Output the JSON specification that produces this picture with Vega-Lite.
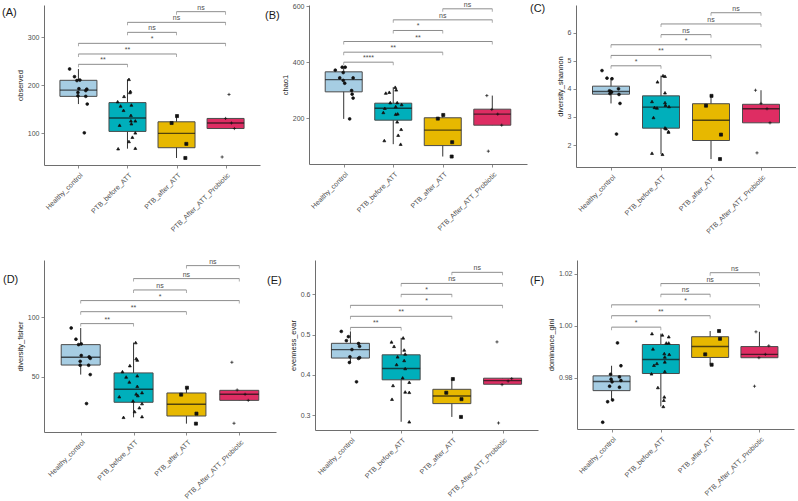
{
  "$schema": "https://vega.github.io/schema/vega-lite/v6.json",
  "background": "white",
  "padding": {"left": 2, "top": 0, "right": 0, "bottom": 0},
  "autosize": {"type": "pad"},
  "config": {
    "view": {"stroke": null},
    "font": "Liberation Sans",
    "axis": {"grid": false, "domainColor": "#6e6e6e", "domainWidth": 1, "tickColor": "#6e6e6e", "tickSize": 3, "tickWidth": 0.8, "labelColor": "#4d4d4d", "labelFontSize": 7, "titleFontSize": 7.5, "titleFontWeight": "normal", "titleColor": "#1a1a1a", "labelPadding": 2, "titlePadding": 3, "labelOverlap": false},
    "axisX": {"labelAngle": -45, "labelAlign": "right", "labelBaseline": "top", "labelPadding": 3},
    "title": {"fontSize": 11, "fontWeight": "normal", "anchor": "start", "frame": "group", "offset": 0, "color": "#1a1a1a", "align": "left", "baseline": "alphabetic"}
  },
  "datasets": {
    "box": [
      {"m": "A", "g": 1, "lo": 161, "q1": 177, "med": 190, "q3": 210.5, "hi": 234},
      {"m": "A", "g": 2, "lo": 68, "q1": 104, "med": 132, "q3": 164, "hi": 212.5},
      {"m": "A", "g": 3, "lo": 48.6, "q1": 70, "med": 100, "q3": 124, "hi": 136},
      {"m": "A", "g": 4, "lo": 110, "q1": 110, "med": 121.5, "q3": 131, "hi": 131},
      {"m": "B", "g": 1, "lo": 198, "q1": 294.4, "med": 338, "q3": 365.6, "hi": 382},
      {"m": "B", "g": 2, "lo": 108, "q1": 193.5, "med": 236, "q3": 254, "hi": 311},
      {"m": "B", "g": 3, "lo": 64, "q1": 103, "med": 158, "q3": 202, "hi": 212},
      {"m": "B", "g": 4, "lo": 175.6, "q1": 175.6, "med": 215, "q3": 232.6, "hi": 281},
      {"m": "C", "g": 1, "lo": 3.48, "q1": 3.81, "med": 3.905, "q3": 4.095, "hi": 4.38},
      {"m": "C", "g": 2, "lo": 1.67, "q1": 2.6, "med": 3.35, "q3": 3.75, "hi": 4.47},
      {"m": "C", "g": 3, "lo": 1.5, "q1": 2.16, "med": 2.88, "q3": 3.47, "hi": 3.75},
      {"m": "C", "g": 4, "lo": 2.79, "q1": 2.79, "med": 3.29, "q3": 3.45, "hi": 3.95},
      {"m": "D", "g": 1, "lo": 52, "q1": 60, "med": 66.5, "q3": 77.1, "hi": 91},
      {"m": "D", "g": 2, "lo": 16.2, "q1": 28.8, "med": 39.7, "q3": 53.4, "hi": 78.8},
      {"m": "D", "g": 3, "lo": 10.9, "q1": 17.3, "med": 27.1, "q3": 36.6, "hi": 41},
      {"m": "D", "g": 4, "lo": 30.4, "q1": 30.4, "med": 35.5, "q3": 38.8, "hi": 39.1},
      {"m": "E", "g": 1, "lo": 0.431, "q1": 0.442, "med": 0.463, "q3": 0.4785, "hi": 0.508},
      {"m": "E", "g": 2, "lo": 0.284, "q1": 0.388, "med": 0.416, "q3": 0.45, "hi": 0.492},
      {"m": "E", "g": 3, "lo": 0.296, "q1": 0.329, "med": 0.348, "q3": 0.3645, "hi": 0.39},
      {"m": "E", "g": 4, "lo": 0.376, "q1": 0.377, "med": 0.386, "q3": 0.392, "hi": 0.392},
      {"m": "F", "g": 1, "lo": 0.9714, "q1": 0.975, "med": 0.9785, "q3": 0.9807, "hi": 0.9846},
      {"m": "F", "g": 2, "lo": 0.9689, "q1": 0.9816, "med": 0.987, "q3": 0.9928, "hi": 0.997},
      {"m": "F", "g": 3, "lo": 0.985, "q1": 0.9878, "med": 0.992, "q3": 0.9958, "hi": 0.998},
      {"m": "F", "g": 4, "lo": 0.9877, "q1": 0.9877, "med": 0.989, "q3": 0.992, "hi": 0.9977}
    ],
    "sig": [
      {"m": "A", "x1": 1, "x2": 2, "xm": 1.5, "y": 243.75, "lab": "**"},
      {"m": "A", "x1": 1, "x2": 3, "xm": 2, "y": 265.3, "lab": "**"},
      {"m": "A", "x1": 1, "x2": 4, "xm": 2.5, "y": 287.5, "lab": "*"},
      {"m": "A", "x1": 2, "x2": 3, "xm": 2.5, "y": 310.4, "lab": "ns"},
      {"m": "A", "x1": 2, "x2": 4, "xm": 3, "y": 331.25, "lab": "ns"},
      {"m": "A", "x1": 3, "x2": 4, "xm": 3.5, "y": 353.5, "lab": "ns"},
      {"m": "B", "x1": 1, "x2": 2, "xm": 1.5, "y": 400, "lab": "****"},
      {"m": "B", "x1": 1, "x2": 3, "xm": 2, "y": 435.6, "lab": "**"},
      {"m": "B", "x1": 1, "x2": 4, "xm": 2.5, "y": 473.6, "lab": "**"},
      {"m": "B", "x1": 2, "x2": 3, "xm": 2.5, "y": 512.8, "lab": "*"},
      {"m": "B", "x1": 2, "x2": 4, "xm": 3, "y": 550.7, "lab": "ns"},
      {"m": "B", "x1": 3, "x2": 4, "xm": 3.5, "y": 590, "lab": "ns"},
      {"m": "C", "x1": 1, "x2": 2, "xm": 1.5, "y": 4.82, "lab": "*"},
      {"m": "C", "x1": 1, "x2": 3, "xm": 2, "y": 5.19, "lab": "**"},
      {"m": "C", "x1": 1, "x2": 4, "xm": 2.5, "y": 5.57, "lab": "*"},
      {"m": "C", "x1": 2, "x2": 3, "xm": 2.5, "y": 5.93, "lab": "ns"},
      {"m": "C", "x1": 2, "x2": 4, "xm": 3, "y": 6.31, "lab": "ns"},
      {"m": "C", "x1": 3, "x2": 4, "xm": 3.5, "y": 6.71, "lab": "ns"},
      {"m": "D", "x1": 1, "x2": 2, "xm": 1.5, "y": 94.7, "lab": "**"},
      {"m": "D", "x1": 1, "x2": 3, "xm": 2, "y": 104.7, "lab": "**"},
      {"m": "D", "x1": 1, "x2": 4, "xm": 2.5, "y": 114, "lab": "*"},
      {"m": "D", "x1": 2, "x2": 3, "xm": 2.5, "y": 122.9, "lab": "ns"},
      {"m": "D", "x1": 2, "x2": 4, "xm": 3, "y": 132.4, "lab": "ns"},
      {"m": "D", "x1": 3, "x2": 4, "xm": 3.5, "y": 143.3, "lab": "ns"},
      {"m": "E", "x1": 1, "x2": 2, "xm": 1.5, "y": 0.518, "lab": "**"},
      {"m": "E", "x1": 1, "x2": 3, "xm": 2, "y": 0.5455, "lab": "**"},
      {"m": "E", "x1": 1, "x2": 4, "xm": 2.5, "y": 0.5727, "lab": "*"},
      {"m": "E", "x1": 2, "x2": 3, "xm": 2.5, "y": 0.6, "lab": "*"},
      {"m": "E", "x1": 2, "x2": 4, "xm": 3, "y": 0.627, "lab": "ns"},
      {"m": "E", "x1": 3, "x2": 4, "xm": 3.5, "y": 0.6545, "lab": "ns"},
      {"m": "F", "x1": 1, "x2": 2, "xm": 1.5, "y": 0.9995, "lab": "*"},
      {"m": "F", "x1": 1, "x2": 3, "xm": 2, "y": 1.0039, "lab": "**"},
      {"m": "F", "x1": 1, "x2": 4, "xm": 2.5, "y": 1.0081, "lab": "*"},
      {"m": "F", "x1": 2, "x2": 3, "xm": 2.5, "y": 1.0122, "lab": "ns"},
      {"m": "F", "x1": 2, "x2": 4, "xm": 3, "y": 1.0163, "lab": "ns"},
      {"m": "F", "x1": 3, "x2": 4, "xm": 3.5, "y": 1.0205, "lab": "ns"}
    ],
    "pts": [
      {"m": "A", "g": 1, "gx": 0.82, "v": 234}, {"m": "A", "g": 1, "gx": 0.92, "v": 218}, {"m": "A", "g": 1, "gx": 0.97, "v": 210}, {"m": "A", "g": 1, "gx": 1.03, "v": 211},
      {"m": "A", "g": 1, "gx": 1.01, "v": 193}, {"m": "A", "g": 1, "gx": 1.17, "v": 192}, {"m": "A", "g": 1, "gx": 1.15, "v": 189}, {"m": "A", "g": 1, "gx": 0.99, "v": 185},
      {"m": "A", "g": 1, "gx": 0.99, "v": 178}, {"m": "A", "g": 1, "gx": 1.15, "v": 177}, {"m": "A", "g": 1, "gx": 1.18, "v": 161}, {"m": "A", "g": 1, "gx": 1.12, "v": 101},
      {"m": "A", "g": 2, "gx": 2.03, "v": 212.5}, {"m": "A", "g": 2, "gx": 2.06, "v": 187.5}, {"m": "A", "g": 2, "gx": 2.05, "v": 185}, {"m": "A", "g": 2, "gx": 1.93, "v": 177},
      {"m": "A", "g": 2, "gx": 1.8, "v": 166}, {"m": "A", "g": 2, "gx": 1.86, "v": 157}, {"m": "A", "g": 2, "gx": 2.08, "v": 159}, {"m": "A", "g": 2, "gx": 1.92, "v": 148},
      {"m": "A", "g": 2, "gx": 2.07, "v": 137.5}, {"m": "A", "g": 2, "gx": 2.07, "v": 126}, {"m": "A", "g": 2, "gx": 2.16, "v": 126}, {"m": "A", "g": 2, "gx": 2.08, "v": 120},
      {"m": "A", "g": 2, "gx": 1.84, "v": 117}, {"m": "A", "g": 2, "gx": 2.16, "v": 101}, {"m": "A", "g": 2, "gx": 2.1, "v": 92}, {"m": "A", "g": 2, "gx": 2.03, "v": 83},
      {"m": "A", "g": 2, "gx": 1.81, "v": 68}, {"m": "A", "g": 2, "gx": 2.16, "v": 69},
      {"m": "A", "g": 3, "gx": 3.01, "v": 136}, {"m": "A", "g": 3, "gx": 2.9, "v": 121.5}, {"m": "A", "g": 3, "gx": 3.2, "v": 78}, {"m": "A", "g": 3, "gx": 3.18, "v": 48.6},
      {"m": "A", "g": 4, "gx": 4.07, "v": 181}, {"m": "A", "g": 4, "gx": 4.0, "v": 131}, {"m": "A", "g": 4, "gx": 4.12, "v": 121.5}, {"m": "A", "g": 4, "gx": 4.18, "v": 110}, {"m": "A", "g": 4, "gx": 3.93, "v": 50.7},

      {"m": "B", "g": 1, "gx": 0.83, "v": 371.5}, {"m": "B", "g": 1, "gx": 0.97, "v": 382}, {"m": "B", "g": 1, "gx": 1.03, "v": 382}, {"m": "B", "g": 1, "gx": 0.99, "v": 363},
      {"m": "B", "g": 1, "gx": 0.92, "v": 344}, {"m": "B", "g": 1, "gx": 1.19, "v": 344}, {"m": "B", "g": 1, "gx": 0.99, "v": 335}, {"m": "B", "g": 1, "gx": 1.02, "v": 325},
      {"m": "B", "g": 1, "gx": 1.16, "v": 299}, {"m": "B", "g": 1, "gx": 1.17, "v": 286}, {"m": "B", "g": 1, "gx": 1.19, "v": 272}, {"m": "B", "g": 1, "gx": 1.12, "v": 198},
      {"m": "B", "g": 2, "gx": 1.85, "v": 290}, {"m": "B", "g": 2, "gx": 1.92, "v": 293}, {"m": "B", "g": 2, "gx": 2.04, "v": 311}, {"m": "B", "g": 2, "gx": 2.06, "v": 301.5},
      {"m": "B", "g": 2, "gx": 1.94, "v": 256}, {"m": "B", "g": 2, "gx": 2.08, "v": 256}, {"m": "B", "g": 2, "gx": 1.83, "v": 236}, {"m": "B", "g": 2, "gx": 2.05, "v": 242},
      {"m": "B", "g": 2, "gx": 2.17, "v": 249}, {"m": "B", "g": 2, "gx": 1.8, "v": 221}, {"m": "B", "g": 2, "gx": 2.05, "v": 215}, {"m": "B", "g": 2, "gx": 2.09, "v": 216},
      {"m": "B", "g": 2, "gx": 2.08, "v": 187.5}, {"m": "B", "g": 2, "gx": 2.16, "v": 161}, {"m": "B", "g": 2, "gx": 2.1, "v": 140}, {"m": "B", "g": 2, "gx": 1.82, "v": 121},
      {"m": "B", "g": 2, "gx": 2.15, "v": 108},
      {"m": "B", "g": 3, "gx": 2.9, "v": 199}, {"m": "B", "g": 3, "gx": 3.01, "v": 212}, {"m": "B", "g": 3, "gx": 3.19, "v": 115}, {"m": "B", "g": 3, "gx": 3.18, "v": 64},
      {"m": "B", "g": 4, "gx": 3.89, "v": 281}, {"m": "B", "g": 4, "gx": 3.99, "v": 231.5}, {"m": "B", "g": 4, "gx": 4.11, "v": 215}, {"m": "B", "g": 4, "gx": 4.19, "v": 175.6}, {"m": "B", "g": 4, "gx": 3.92, "v": 83},

      {"m": "C", "g": 1, "gx": 0.82, "v": 4.65}, {"m": "C", "g": 1, "gx": 0.92, "v": 4.38}, {"m": "C", "g": 1, "gx": 1.02, "v": 4.36}, {"m": "C", "g": 1, "gx": 0.97, "v": 3.93},
      {"m": "C", "g": 1, "gx": 1.01, "v": 3.88}, {"m": "C", "g": 1, "gx": 0.98, "v": 3.83}, {"m": "C", "g": 1, "gx": 1.15, "v": 4.0}, {"m": "C", "g": 1, "gx": 1.16, "v": 3.8},
      {"m": "C", "g": 1, "gx": 1.18, "v": 3.48}, {"m": "C", "g": 1, "gx": 1.11, "v": 2.39}, {"m": "C", "g": 1, "gx": 1.0, "v": 3.9},
      {"m": "C", "g": 2, "gx": 2.04, "v": 4.47}, {"m": "C", "g": 2, "gx": 2.08, "v": 4.45}, {"m": "C", "g": 2, "gx": 1.93, "v": 4.25}, {"m": "C", "g": 2, "gx": 2.08, "v": 3.86},
      {"m": "C", "g": 2, "gx": 1.82, "v": 3.55}, {"m": "C", "g": 2, "gx": 2.08, "v": 3.51}, {"m": "C", "g": 2, "gx": 2.09, "v": 3.42}, {"m": "C", "g": 2, "gx": 2.16, "v": 3.37},
      {"m": "C", "g": 2, "gx": 1.87, "v": 3.34}, {"m": "C", "g": 2, "gx": 1.92, "v": 3.32}, {"m": "C", "g": 2, "gx": 1.85, "v": 2.98}, {"m": "C", "g": 2, "gx": 2.08, "v": 2.61},
      {"m": "C", "g": 2, "gx": 2.1, "v": 2.58}, {"m": "C", "g": 2, "gx": 2.15, "v": 2.48}, {"m": "C", "g": 2, "gx": 2.15, "v": 2.46}, {"m": "C", "g": 2, "gx": 1.82, "v": 1.71},
      {"m": "C", "g": 2, "gx": 2.03, "v": 1.67},
      {"m": "C", "g": 3, "gx": 2.9, "v": 3.4}, {"m": "C", "g": 3, "gx": 3.01, "v": 3.75}, {"m": "C", "g": 3, "gx": 3.2, "v": 2.37}, {"m": "C", "g": 3, "gx": 3.18, "v": 1.5},
      {"m": "C", "g": 4, "gx": 3.89, "v": 3.95}, {"m": "C", "g": 4, "gx": 4.0, "v": 3.48}, {"m": "C", "g": 4, "gx": 4.12, "v": 3.29}, {"m": "C", "g": 4, "gx": 4.18, "v": 2.79}, {"m": "C", "g": 4, "gx": 3.92, "v": 1.72},

      {"m": "D", "g": 1, "gx": 0.82, "v": 91}, {"m": "D", "g": 1, "gx": 0.91, "v": 81.6}, {"m": "D", "g": 1, "gx": 0.96, "v": 77.1}, {"m": "D", "g": 1, "gx": 1.01, "v": 77.7},
      {"m": "D", "g": 1, "gx": 1.01, "v": 68}, {"m": "D", "g": 1, "gx": 0.99, "v": 63.1}, {"m": "D", "g": 1, "gx": 1.16, "v": 66.8}, {"m": "D", "g": 1, "gx": 1.18, "v": 65.6},
      {"m": "D", "g": 1, "gx": 0.99, "v": 59.8}, {"m": "D", "g": 1, "gx": 1.15, "v": 59.8}, {"m": "D", "g": 1, "gx": 1.18, "v": 52}, {"m": "D", "g": 1, "gx": 1.11, "v": 27.7},
      {"m": "D", "g": 2, "gx": 2.04, "v": 78.8}, {"m": "D", "g": 2, "gx": 2.05, "v": 65.4}, {"m": "D", "g": 2, "gx": 2.07, "v": 64.2}, {"m": "D", "g": 2, "gx": 1.93, "v": 59.5},
      {"m": "D", "g": 2, "gx": 1.79, "v": 54.5}, {"m": "D", "g": 2, "gx": 1.86, "v": 50}, {"m": "D", "g": 2, "gx": 2.07, "v": 51}, {"m": "D", "g": 2, "gx": 1.92, "v": 45.8},
      {"m": "D", "g": 2, "gx": 2.07, "v": 42.2}, {"m": "D", "g": 2, "gx": 1.73, "v": 33.5}, {"m": "D", "g": 2, "gx": 2.05, "v": 35.8}, {"m": "D", "g": 2, "gx": 2.08, "v": 34.4},
      {"m": "D", "g": 2, "gx": 2.16, "v": 36.9}, {"m": "D", "g": 2, "gx": 1.99, "v": 29.9}, {"m": "D", "g": 2, "gx": 2.16, "v": 27.7}, {"m": "D", "g": 2, "gx": 2.11, "v": 24.3},
      {"m": "D", "g": 2, "gx": 2.02, "v": 21}, {"m": "D", "g": 2, "gx": 1.81, "v": 16.2}, {"m": "D", "g": 2, "gx": 2.16, "v": 16.8},
      {"m": "D", "g": 3, "gx": 3.01, "v": 41}, {"m": "D", "g": 3, "gx": 2.9, "v": 35.2}, {"m": "D", "g": 3, "gx": 3.19, "v": 19.3}, {"m": "D", "g": 3, "gx": 3.18, "v": 10.9},
      {"m": "D", "g": 4, "gx": 3.86, "v": 62.3}, {"m": "D", "g": 4, "gx": 3.96, "v": 39.1}, {"m": "D", "g": 4, "gx": 4.11, "v": 35.5}, {"m": "D", "g": 4, "gx": 4.17, "v": 30.4}, {"m": "D", "g": 4, "gx": 3.9, "v": 11.2},

      {"m": "E", "g": 1, "gx": 0.82, "v": 0.508}, {"m": "E", "g": 1, "gx": 0.96, "v": 0.495}, {"m": "E", "g": 1, "gx": 0.92, "v": 0.485}, {"m": "E", "g": 1, "gx": 1.16, "v": 0.478},
      {"m": "E", "g": 1, "gx": 1.18, "v": 0.471}, {"m": "E", "g": 1, "gx": 1.03, "v": 0.463}, {"m": "E", "g": 1, "gx": 0.99, "v": 0.445}, {"m": "E", "g": 1, "gx": 1.16, "v": 0.441},
      {"m": "E", "g": 1, "gx": 1.18, "v": 0.443}, {"m": "E", "g": 1, "gx": 0.98, "v": 0.431}, {"m": "E", "g": 1, "gx": 1.12, "v": 0.383},
      {"m": "E", "g": 2, "gx": 1.81, "v": 0.482}, {"m": "E", "g": 2, "gx": 1.86, "v": 0.471}, {"m": "E", "g": 2, "gx": 2.04, "v": 0.492}, {"m": "E", "g": 2, "gx": 2.06, "v": 0.462},
      {"m": "E", "g": 2, "gx": 1.93, "v": 0.445}, {"m": "E", "g": 2, "gx": 2.08, "v": 0.452}, {"m": "E", "g": 2, "gx": 2.06, "v": 0.436}, {"m": "E", "g": 2, "gx": 1.91, "v": 0.426},
      {"m": "E", "g": 2, "gx": 2.08, "v": 0.416}, {"m": "E", "g": 2, "gx": 2.03, "v": 0.393}, {"m": "E", "g": 2, "gx": 1.84, "v": 0.374}, {"m": "E", "g": 2, "gx": 2.16, "v": 0.382},
      {"m": "E", "g": 2, "gx": 2.08, "v": 0.358}, {"m": "E", "g": 2, "gx": 2.16, "v": 0.357}, {"m": "E", "g": 2, "gx": 1.82, "v": 0.34}, {"m": "E", "g": 2, "gx": 2.16, "v": 0.284},
      {"m": "E", "g": 3, "gx": 3.02, "v": 0.39}, {"m": "E", "g": 3, "gx": 2.89, "v": 0.356}, {"m": "E", "g": 3, "gx": 3.19, "v": 0.34}, {"m": "E", "g": 3, "gx": 3.18, "v": 0.296},
      {"m": "E", "g": 4, "gx": 3.89, "v": 0.482}, {"m": "E", "g": 4, "gx": 4.18, "v": 0.391}, {"m": "E", "g": 4, "gx": 4.11, "v": 0.385}, {"m": "E", "g": 4, "gx": 3.99, "v": 0.376}, {"m": "E", "g": 4, "gx": 3.92, "v": 0.281},

      {"m": "F", "g": 1, "gx": 1.12, "v": 0.9934}, {"m": "F", "g": 1, "gx": 1.19, "v": 0.9846}, {"m": "F", "g": 1, "gx": 0.98, "v": 0.9813}, {"m": "F", "g": 1, "gx": 1.16, "v": 0.9803},
      {"m": "F", "g": 1, "gx": 0.99, "v": 0.9794}, {"m": "F", "g": 1, "gx": 1.19, "v": 0.9789}, {"m": "F", "g": 1, "gx": 1.01, "v": 0.9784}, {"m": "F", "g": 1, "gx": 0.96, "v": 0.9767},
      {"m": "F", "g": 1, "gx": 1.16, "v": 0.9763}, {"m": "F", "g": 1, "gx": 1.02, "v": 0.9714}, {"m": "F", "g": 1, "gx": 0.92, "v": 0.9707}, {"m": "F", "g": 1, "gx": 0.82, "v": 0.9628},
      {"m": "F", "g": 2, "gx": 1.82, "v": 0.997}, {"m": "F", "g": 2, "gx": 2.03, "v": 0.9965}, {"m": "F", "g": 2, "gx": 2.16, "v": 0.9958}, {"m": "F", "g": 2, "gx": 1.84, "v": 0.9911},
      {"m": "F", "g": 2, "gx": 2.11, "v": 0.9934}, {"m": "F", "g": 2, "gx": 2.16, "v": 0.9934}, {"m": "F", "g": 2, "gx": 2.07, "v": 0.9893}, {"m": "F", "g": 2, "gx": 2.17, "v": 0.989},
      {"m": "F", "g": 2, "gx": 2.08, "v": 0.988}, {"m": "F", "g": 2, "gx": 1.92, "v": 0.9855}, {"m": "F", "g": 2, "gx": 1.86, "v": 0.9848}, {"m": "F", "g": 2, "gx": 2.08, "v": 0.9861},
      {"m": "F", "g": 2, "gx": 1.81, "v": 0.9815}, {"m": "F", "g": 2, "gx": 2.08, "v": 0.9824}, {"m": "F", "g": 2, "gx": 1.94, "v": 0.9762}, {"m": "F", "g": 2, "gx": 2.07, "v": 0.9726},
      {"m": "F", "g": 2, "gx": 2.06, "v": 0.9713}, {"m": "F", "g": 2, "gx": 2.05, "v": 0.9689},
      {"m": "F", "g": 3, "gx": 3.18, "v": 0.998}, {"m": "F", "g": 3, "gx": 3.2, "v": 0.995}, {"m": "F", "g": 3, "gx": 2.9, "v": 0.989}, {"m": "F", "g": 3, "gx": 3.03, "v": 0.985},
      {"m": "F", "g": 4, "gx": 3.93, "v": 0.9977}, {"m": "F", "g": 4, "gx": 4.19, "v": 0.9923}, {"m": "F", "g": 4, "gx": 4.12, "v": 0.989}, {"m": "F", "g": 4, "gx": 3.99, "v": 0.9877}, {"m": "F", "g": 4, "gx": 3.9, "v": 0.9767}
    ]
  },
  "spacing": 22,
  "vconcat": [
    {
      "bounds": "flush",
      "spacing": 49,
      "hconcat": [
        {
          "width": 216, "height": 160,
          "title": {"text": "(A)", "dx": -42, "dy": 18},
          "layer": [
            {"data": {"name": "box"}, "transform": [{"filter": "datum.m == 'A'"}], "mark": {"type": "rule", "color": "#333333", "strokeWidth": 1},
             "encoding": {"x": {"field": "g", "type": "quantitative", "title": null, "scale": {"domain": [0.4, 4.6], "nice": false, "zero": false}, "axis": {"values": [1, 2, 3, 4], "labelExpr": "['', 'Healthy_control', 'PTB_before_ATT', 'PTB_after_ATT', 'PTB_After_ATT_Probiotic'][datum.value]"}},
                          "y": {"field": "lo", "type": "quantitative", "title": "observed", "scale": {"domain": [34, 367.4], "nice": false, "zero": false}, "axis": {"values": [100, 200, 300]}}, "y2": {"field": "hi"}}},
            {"data": {"name": "box"}, "transform": [{"filter": "datum.m == 'A'"}], "mark": {"type": "bar", "width": 37, "stroke": "#4a4a4a", "strokeWidth": 1},
             "encoding": {"x": {"field": "g", "type": "quantitative", "title": null}, "y": {"field": "q1", "type": "quantitative", "title": "observed"}, "y2": {"field": "q3"},
                          "fill": {"field": "g", "type": "nominal", "scale": {"domain": [1, 2, 3, 4], "range": ["#a6cde3", "#00afbb", "#e7b800", "#de2d63"]}, "legend": null}}},
            {"data": {"name": "box"}, "transform": [{"filter": "datum.m == 'A'"}], "mark": {"type": "tick", "orient": "horizontal", "size": 37, "thickness": 1.4, "color": "#111111"},
             "encoding": {"x": {"field": "g", "type": "quantitative", "title": null}, "y": {"field": "med", "type": "quantitative", "title": "observed"}}},
            {"data": {"name": "pts"}, "transform": [{"filter": "datum.m == 'A'"}], "mark": {"type": "point", "filled": true, "color": "#111111", "stroke": "#111111", "strokeWidth": 0.7, "opacity": 1},
             "encoding": {"x": {"field": "gx", "type": "quantitative", "title": null}, "y": {"field": "v", "type": "quantitative", "title": "observed"},
                          "shape": {"field": "g", "type": "nominal", "scale": {"domain": [1, 2, 3, 4], "range": ["circle", "triangle-up", "square", "M-1,0L1,0M0,-1L0,1"]}, "legend": null},
                          "size": {"field": "g", "type": "nominal", "scale": {"domain": [1, 2, 3, 4], "range": [8, 10, 8, 22]}, "legend": null}}},
            {"data": {"name": "sig"}, "transform": [{"filter": "datum.m == 'A'"}], "mark": {"type": "rule", "color": "#808080", "strokeWidth": 0.9},
             "encoding": {"x": {"field": "x1", "type": "quantitative", "title": null}, "x2": {"field": "x2"}, "y": {"field": "y", "type": "quantitative", "title": "observed"}}},
            {"data": {"name": "sig"}, "transform": [{"filter": "datum.m == 'A'"}], "mark": {"type": "tick", "orient": "vertical", "size": 3, "thickness": 0.9, "color": "#808080", "yOffset": 1.5},
             "encoding": {"x": {"field": "x1", "type": "quantitative", "title": null}, "y": {"field": "y", "type": "quantitative", "title": "observed"}}},
            {"data": {"name": "sig"}, "transform": [{"filter": "datum.m == 'A'"}], "mark": {"type": "tick", "orient": "vertical", "size": 3, "thickness": 0.9, "color": "#808080", "yOffset": 1.5},
             "encoding": {"x": {"field": "x2", "type": "quantitative", "title": null}, "y": {"field": "y", "type": "quantitative", "title": "observed"}}},
            {"data": {"name": "sig"}, "transform": [{"filter": "datum.m == 'A'"}], "mark": {"type": "text", "fontSize": 7, "color": "#4d4d4d", "baseline": "bottom", "dy": -1},
             "encoding": {"x": {"field": "xm", "type": "quantitative", "title": null}, "y": {"field": "y", "type": "quantitative", "title": "observed"}, "text": {"field": "lab"}}}
          ]
        },
        {
          "width": 218, "height": 159,
          "title": {"text": "(B)", "dx": -44, "dy": 24},
          "layer": [
            {"data": {"name": "box"}, "transform": [{"filter": "datum.m == 'B'"}], "mark": {"type": "rule", "color": "#333333", "strokeWidth": 1},
             "encoding": {"x": {"field": "g", "type": "quantitative", "title": null, "scale": {"domain": [0.4, 4.6], "nice": false, "zero": false}, "axis": {"values": [1, 2, 3, 4], "labelExpr": "['', 'Healthy_control', 'PTB_before_ATT', 'PTB_after_ATT', 'PTB_After_ATT_Probiotic'][datum.value]"}},
                          "y": {"field": "lo", "type": "quantitative", "title": "chao1", "scale": {"domain": [37.4, 603.6], "nice": false, "zero": false}, "axis": {"values": [200, 400, 600]}}, "y2": {"field": "hi"}}},
            {"data": {"name": "box"}, "transform": [{"filter": "datum.m == 'B'"}], "mark": {"type": "bar", "width": 37, "stroke": "#4a4a4a", "strokeWidth": 1},
             "encoding": {"x": {"field": "g", "type": "quantitative", "title": null}, "y": {"field": "q1", "type": "quantitative", "title": "chao1"}, "y2": {"field": "q3"},
                          "fill": {"field": "g", "type": "nominal", "scale": {"domain": [1, 2, 3, 4], "range": ["#a6cde3", "#00afbb", "#e7b800", "#de2d63"]}, "legend": null}}},
            {"data": {"name": "box"}, "transform": [{"filter": "datum.m == 'B'"}], "mark": {"type": "tick", "orient": "horizontal", "size": 37, "thickness": 1.4, "color": "#111111"},
             "encoding": {"x": {"field": "g", "type": "quantitative", "title": null}, "y": {"field": "med", "type": "quantitative", "title": "chao1"}}},
            {"data": {"name": "pts"}, "transform": [{"filter": "datum.m == 'B'"}], "mark": {"type": "point", "filled": true, "color": "#111111", "stroke": "#111111", "strokeWidth": 0.7, "opacity": 1},
             "encoding": {"x": {"field": "gx", "type": "quantitative", "title": null}, "y": {"field": "v", "type": "quantitative", "title": "chao1"},
                          "shape": {"field": "g", "type": "nominal", "scale": {"domain": [1, 2, 3, 4], "range": ["circle", "triangle-up", "square", "M-1,0L1,0M0,-1L0,1"]}, "legend": null},
                          "size": {"field": "g", "type": "nominal", "scale": {"domain": [1, 2, 3, 4], "range": [8, 10, 8, 22]}, "legend": null}}},
            {"data": {"name": "sig"}, "transform": [{"filter": "datum.m == 'B'"}], "mark": {"type": "rule", "color": "#808080", "strokeWidth": 0.9},
             "encoding": {"x": {"field": "x1", "type": "quantitative", "title": null}, "x2": {"field": "x2"}, "y": {"field": "y", "type": "quantitative", "title": "chao1"}}},
            {"data": {"name": "sig"}, "transform": [{"filter": "datum.m == 'B'"}], "mark": {"type": "tick", "orient": "vertical", "size": 3, "thickness": 0.9, "color": "#808080", "yOffset": 1.5},
             "encoding": {"x": {"field": "x1", "type": "quantitative", "title": null}, "y": {"field": "y", "type": "quantitative", "title": "chao1"}}},
            {"data": {"name": "sig"}, "transform": [{"filter": "datum.m == 'B'"}], "mark": {"type": "tick", "orient": "vertical", "size": 3, "thickness": 0.9, "color": "#808080", "yOffset": 1.5},
             "encoding": {"x": {"field": "x2", "type": "quantitative", "title": null}, "y": {"field": "y", "type": "quantitative", "title": "chao1"}}},
            {"data": {"name": "sig"}, "transform": [{"filter": "datum.m == 'B'"}], "mark": {"type": "text", "fontSize": 7, "color": "#4d4d4d", "baseline": "bottom", "dy": -1},
             "encoding": {"x": {"field": "xm", "type": "quantitative", "title": null}, "y": {"field": "y", "type": "quantitative", "title": "chao1"}, "text": {"field": "lab"}}}
          ]
        },
        {
          "width": 220, "height": 162,
          "title": {"text": "(C)", "dx": -46, "dy": 13},
          "layer": [
            {"data": {"name": "box"}, "transform": [{"filter": "datum.m == 'C'"}], "mark": {"type": "rule", "color": "#333333", "strokeWidth": 1},
             "encoding": {"x": {"field": "g", "type": "quantitative", "title": null, "scale": {"domain": [0.4, 4.6], "nice": false, "zero": false}, "axis": {"values": [1, 2, 3, 4], "labelExpr": "['', 'Healthy_control', 'PTB_before_ATT', 'PTB_after_ATT', 'PTB_After_ATT_Probiotic'][datum.value]"}},
                          "y": {"field": "lo", "type": "quantitative", "title": "diversity_shannon", "scale": {"domain": [1.217, 6.985], "nice": false, "zero": false}, "axis": {"values": [2, 3, 4, 5, 6]}}, "y2": {"field": "hi"}}},
            {"data": {"name": "box"}, "transform": [{"filter": "datum.m == 'C'"}], "mark": {"type": "bar", "width": 37, "stroke": "#4a4a4a", "strokeWidth": 1},
             "encoding": {"x": {"field": "g", "type": "quantitative", "title": null}, "y": {"field": "q1", "type": "quantitative", "title": "diversity_shannon"}, "y2": {"field": "q3"},
                          "fill": {"field": "g", "type": "nominal", "scale": {"domain": [1, 2, 3, 4], "range": ["#a6cde3", "#00afbb", "#e7b800", "#de2d63"]}, "legend": null}}},
            {"data": {"name": "box"}, "transform": [{"filter": "datum.m == 'C'"}], "mark": {"type": "tick", "orient": "horizontal", "size": 37, "thickness": 1.4, "color": "#111111"},
             "encoding": {"x": {"field": "g", "type": "quantitative", "title": null}, "y": {"field": "med", "type": "quantitative", "title": "diversity_shannon"}}},
            {"data": {"name": "pts"}, "transform": [{"filter": "datum.m == 'C'"}], "mark": {"type": "point", "filled": true, "color": "#111111", "stroke": "#111111", "strokeWidth": 0.7, "opacity": 1},
             "encoding": {"x": {"field": "gx", "type": "quantitative", "title": null}, "y": {"field": "v", "type": "quantitative", "title": "diversity_shannon"},
                          "shape": {"field": "g", "type": "nominal", "scale": {"domain": [1, 2, 3, 4], "range": ["circle", "triangle-up", "square", "M-1,0L1,0M0,-1L0,1"]}, "legend": null},
                          "size": {"field": "g", "type": "nominal", "scale": {"domain": [1, 2, 3, 4], "range": [8, 10, 8, 22]}, "legend": null}}},
            {"data": {"name": "sig"}, "transform": [{"filter": "datum.m == 'C'"}], "mark": {"type": "rule", "color": "#808080", "strokeWidth": 0.9},
             "encoding": {"x": {"field": "x1", "type": "quantitative", "title": null}, "x2": {"field": "x2"}, "y": {"field": "y", "type": "quantitative", "title": "diversity_shannon"}}},
            {"data": {"name": "sig"}, "transform": [{"filter": "datum.m == 'C'"}], "mark": {"type": "tick", "orient": "vertical", "size": 3, "thickness": 0.9, "color": "#808080", "yOffset": 1.5},
             "encoding": {"x": {"field": "x1", "type": "quantitative", "title": null}, "y": {"field": "y", "type": "quantitative", "title": "diversity_shannon"}}},
            {"data": {"name": "sig"}, "transform": [{"filter": "datum.m == 'C'"}], "mark": {"type": "tick", "orient": "vertical", "size": 3, "thickness": 0.9, "color": "#808080", "yOffset": 1.5},
             "encoding": {"x": {"field": "x2", "type": "quantitative", "title": null}, "y": {"field": "y", "type": "quantitative", "title": "diversity_shannon"}}},
            {"data": {"name": "sig"}, "transform": [{"filter": "datum.m == 'C'"}], "mark": {"type": "text", "fontSize": 7, "color": "#4d4d4d", "baseline": "bottom", "dy": -1},
             "encoding": {"x": {"field": "xm", "type": "quantitative", "title": null}, "y": {"field": "y", "type": "quantitative", "title": "diversity_shannon"}, "text": {"field": "lab"}}}
          ]
        }
      ]
    },
    {
      "bounds": "flush",
      "spacing": 39,
      "hconcat": [
        {
          "width": 232, "height": 172,
          "title": {"text": "(D)", "dx": -41, "dy": 31},
          "layer": [
            {"data": {"name": "box"}, "transform": [{"filter": "datum.m == 'D'"}], "mark": {"type": "rule", "color": "#333333", "strokeWidth": 1},
             "encoding": {"x": {"field": "g", "type": "quantitative", "title": null, "scale": {"domain": [0.4, 4.6], "nice": false, "zero": false}, "axis": {"values": [1, 2, 3, 4], "labelExpr": "['', 'Healthy_control', 'PTB_before_ATT', 'PTB_after_ATT', 'PTB_After_ATT_Probiotic'][datum.value]"}},
                          "y": {"field": "lo", "type": "quantitative", "title": "diversity_fisher", "scale": {"domain": [3.9, 148], "nice": false, "zero": false}, "axis": {"values": [50, 100]}}, "y2": {"field": "hi"}}},
            {"data": {"name": "box"}, "transform": [{"filter": "datum.m == 'D'"}], "mark": {"type": "bar", "width": 39, "stroke": "#4a4a4a", "strokeWidth": 1},
             "encoding": {"x": {"field": "g", "type": "quantitative", "title": null}, "y": {"field": "q1", "type": "quantitative", "title": "diversity_fisher"}, "y2": {"field": "q3"},
                          "fill": {"field": "g", "type": "nominal", "scale": {"domain": [1, 2, 3, 4], "range": ["#a6cde3", "#00afbb", "#e7b800", "#de2d63"]}, "legend": null}}},
            {"data": {"name": "box"}, "transform": [{"filter": "datum.m == 'D'"}], "mark": {"type": "tick", "orient": "horizontal", "size": 39, "thickness": 1.4, "color": "#111111"},
             "encoding": {"x": {"field": "g", "type": "quantitative", "title": null}, "y": {"field": "med", "type": "quantitative", "title": "diversity_fisher"}}},
            {"data": {"name": "pts"}, "transform": [{"filter": "datum.m == 'D'"}], "mark": {"type": "point", "filled": true, "color": "#111111", "stroke": "#111111", "strokeWidth": 0.7, "opacity": 1},
             "encoding": {"x": {"field": "gx", "type": "quantitative", "title": null}, "y": {"field": "v", "type": "quantitative", "title": "diversity_fisher"},
                          "shape": {"field": "g", "type": "nominal", "scale": {"domain": [1, 2, 3, 4], "range": ["circle", "triangle-up", "square", "M-1,0L1,0M0,-1L0,1"]}, "legend": null},
                          "size": {"field": "g", "type": "nominal", "scale": {"domain": [1, 2, 3, 4], "range": [8, 10, 8, 22]}, "legend": null}}},
            {"data": {"name": "sig"}, "transform": [{"filter": "datum.m == 'D'"}], "mark": {"type": "rule", "color": "#808080", "strokeWidth": 0.9},
             "encoding": {"x": {"field": "x1", "type": "quantitative", "title": null}, "x2": {"field": "x2"}, "y": {"field": "y", "type": "quantitative", "title": "diversity_fisher"}}},
            {"data": {"name": "sig"}, "transform": [{"filter": "datum.m == 'D'"}], "mark": {"type": "tick", "orient": "vertical", "size": 3, "thickness": 0.9, "color": "#808080", "yOffset": 1.5},
             "encoding": {"x": {"field": "x1", "type": "quantitative", "title": null}, "y": {"field": "y", "type": "quantitative", "title": "diversity_fisher"}}},
            {"data": {"name": "sig"}, "transform": [{"filter": "datum.m == 'D'"}], "mark": {"type": "tick", "orient": "vertical", "size": 3, "thickness": 0.9, "color": "#808080", "yOffset": 1.5},
             "encoding": {"x": {"field": "x2", "type": "quantitative", "title": null}, "y": {"field": "y", "type": "quantitative", "title": "diversity_fisher"}}},
            {"data": {"name": "sig"}, "transform": [{"filter": "datum.m == 'D'"}], "mark": {"type": "text", "fontSize": 7, "color": "#4d4d4d", "baseline": "bottom", "dy": -1},
             "encoding": {"x": {"field": "xm", "type": "quantitative", "title": null}, "y": {"field": "y", "type": "quantitative", "title": "diversity_fisher"}, "text": {"field": "lab"}}}
          ]
        },
        {
          "width": 223, "height": 170,
          "title": {"text": "(E)", "dx": -48, "dy": 30},
          "layer": [
            {"data": {"name": "box"}, "transform": [{"filter": "datum.m == 'E'"}], "mark": {"type": "rule", "color": "#333333", "strokeWidth": 1},
             "encoding": {"x": {"field": "g", "type": "quantitative", "title": null, "scale": {"domain": [0.4, 4.6], "nice": false, "zero": false}, "axis": {"values": [1, 2, 3, 4], "labelExpr": "['', 'Healthy_control', 'PTB_before_ATT', 'PTB_after_ATT', 'PTB_After_ATT_Probiotic'][datum.value]"}},
                          "y": {"field": "lo", "type": "quantitative", "title": "evenness_evar", "scale": {"domain": [0.2636, 0.6851], "nice": false, "zero": false}, "axis": {"values": [0.3, 0.4, 0.5, 0.6], "format": ".1f"}}, "y2": {"field": "hi"}}},
            {"data": {"name": "box"}, "transform": [{"filter": "datum.m == 'E'"}], "mark": {"type": "bar", "width": 38, "stroke": "#4a4a4a", "strokeWidth": 1},
             "encoding": {"x": {"field": "g", "type": "quantitative", "title": null}, "y": {"field": "q1", "type": "quantitative", "title": "evenness_evar"}, "y2": {"field": "q3"},
                          "fill": {"field": "g", "type": "nominal", "scale": {"domain": [1, 2, 3, 4], "range": ["#a6cde3", "#00afbb", "#e7b800", "#de2d63"]}, "legend": null}}},
            {"data": {"name": "box"}, "transform": [{"filter": "datum.m == 'E'"}], "mark": {"type": "tick", "orient": "horizontal", "size": 38, "thickness": 1.4, "color": "#111111"},
             "encoding": {"x": {"field": "g", "type": "quantitative", "title": null}, "y": {"field": "med", "type": "quantitative", "title": "evenness_evar"}}},
            {"data": {"name": "pts"}, "transform": [{"filter": "datum.m == 'E'"}], "mark": {"type": "point", "filled": true, "color": "#111111", "stroke": "#111111", "strokeWidth": 0.7, "opacity": 1},
             "encoding": {"x": {"field": "gx", "type": "quantitative", "title": null}, "y": {"field": "v", "type": "quantitative", "title": "evenness_evar"},
                          "shape": {"field": "g", "type": "nominal", "scale": {"domain": [1, 2, 3, 4], "range": ["circle", "triangle-up", "square", "M-1,0L1,0M0,-1L0,1"]}, "legend": null},
                          "size": {"field": "g", "type": "nominal", "scale": {"domain": [1, 2, 3, 4], "range": [8, 10, 8, 22]}, "legend": null}}},
            {"data": {"name": "sig"}, "transform": [{"filter": "datum.m == 'E'"}], "mark": {"type": "rule", "color": "#808080", "strokeWidth": 0.9},
             "encoding": {"x": {"field": "x1", "type": "quantitative", "title": null}, "x2": {"field": "x2"}, "y": {"field": "y", "type": "quantitative", "title": "evenness_evar"}}},
            {"data": {"name": "sig"}, "transform": [{"filter": "datum.m == 'E'"}], "mark": {"type": "tick", "orient": "vertical", "size": 3, "thickness": 0.9, "color": "#808080", "yOffset": 1.5},
             "encoding": {"x": {"field": "x1", "type": "quantitative", "title": null}, "y": {"field": "y", "type": "quantitative", "title": "evenness_evar"}}},
            {"data": {"name": "sig"}, "transform": [{"filter": "datum.m == 'E'"}], "mark": {"type": "tick", "orient": "vertical", "size": 3, "thickness": 0.9, "color": "#808080", "yOffset": 1.5},
             "encoding": {"x": {"field": "x2", "type": "quantitative", "title": null}, "y": {"field": "y", "type": "quantitative", "title": "evenness_evar"}}},
            {"data": {"name": "sig"}, "transform": [{"filter": "datum.m == 'E'"}], "mark": {"type": "text", "fontSize": 7, "color": "#4d4d4d", "baseline": "bottom", "dy": -1},
             "encoding": {"x": {"field": "xm", "type": "quantitative", "title": null}, "y": {"field": "y", "type": "quantitative", "title": "evenness_evar"}, "text": {"field": "lab"}}}
          ]
        },
        {
          "width": 217, "height": 169,
          "title": {"text": "(F)", "dx": -47, "dy": 30},
          "layer": [
            {"data": {"name": "box"}, "transform": [{"filter": "datum.m == 'F'"}], "mark": {"type": "rule", "color": "#333333", "strokeWidth": 1},
             "encoding": {"x": {"field": "g", "type": "quantitative", "title": null, "scale": {"domain": [0.4, 4.6], "nice": false, "zero": false}, "axis": {"values": [1, 2, 3, 4], "labelExpr": "['', 'Healthy_control', 'PTB_before_ATT', 'PTB_after_ATT', 'PTB_After_ATT_Probiotic'][datum.value]"}},
                          "y": {"field": "lo", "type": "quantitative", "title": "dominance_gini", "scale": {"domain": [0.9602, 1.0254], "nice": false, "zero": false}, "axis": {"values": [0.98, 1.0, 1.02], "format": ".2f"}}, "y2": {"field": "hi"}}},
            {"data": {"name": "box"}, "transform": [{"filter": "datum.m == 'F'"}], "mark": {"type": "bar", "width": 37, "stroke": "#4a4a4a", "strokeWidth": 1},
             "encoding": {"x": {"field": "g", "type": "quantitative", "title": null}, "y": {"field": "q1", "type": "quantitative", "title": "dominance_gini"}, "y2": {"field": "q3"},
                          "fill": {"field": "g", "type": "nominal", "scale": {"domain": [1, 2, 3, 4], "range": ["#a6cde3", "#00afbb", "#e7b800", "#de2d63"]}, "legend": null}}},
            {"data": {"name": "box"}, "transform": [{"filter": "datum.m == 'F'"}], "mark": {"type": "tick", "orient": "horizontal", "size": 37, "thickness": 1.4, "color": "#111111"},
             "encoding": {"x": {"field": "g", "type": "quantitative", "title": null}, "y": {"field": "med", "type": "quantitative", "title": "dominance_gini"}}},
            {"data": {"name": "pts"}, "transform": [{"filter": "datum.m == 'F'"}], "mark": {"type": "point", "filled": true, "color": "#111111", "stroke": "#111111", "strokeWidth": 0.7, "opacity": 1},
             "encoding": {"x": {"field": "gx", "type": "quantitative", "title": null}, "y": {"field": "v", "type": "quantitative", "title": "dominance_gini"},
                          "shape": {"field": "g", "type": "nominal", "scale": {"domain": [1, 2, 3, 4], "range": ["circle", "triangle-up", "square", "M-1,0L1,0M0,-1L0,1"]}, "legend": null},
                          "size": {"field": "g", "type": "nominal", "scale": {"domain": [1, 2, 3, 4], "range": [8, 10, 8, 22]}, "legend": null}}},
            {"data": {"name": "sig"}, "transform": [{"filter": "datum.m == 'F'"}], "mark": {"type": "rule", "color": "#808080", "strokeWidth": 0.9},
             "encoding": {"x": {"field": "x1", "type": "quantitative", "title": null}, "x2": {"field": "x2"}, "y": {"field": "y", "type": "quantitative", "title": "dominance_gini"}}},
            {"data": {"name": "sig"}, "transform": [{"filter": "datum.m == 'F'"}], "mark": {"type": "tick", "orient": "vertical", "size": 3, "thickness": 0.9, "color": "#808080", "yOffset": 1.5},
             "encoding": {"x": {"field": "x1", "type": "quantitative", "title": null}, "y": {"field": "y", "type": "quantitative", "title": "dominance_gini"}}},
            {"data": {"name": "sig"}, "transform": [{"filter": "datum.m == 'F'"}], "mark": {"type": "tick", "orient": "vertical", "size": 3, "thickness": 0.9, "color": "#808080", "yOffset": 1.5},
             "encoding": {"x": {"field": "x2", "type": "quantitative", "title": null}, "y": {"field": "y", "type": "quantitative", "title": "dominance_gini"}}},
            {"data": {"name": "sig"}, "transform": [{"filter": "datum.m == 'F'"}], "mark": {"type": "text", "fontSize": 7, "color": "#4d4d4d", "baseline": "bottom", "dy": -1},
             "encoding": {"x": {"field": "xm", "type": "quantitative", "title": null}, "y": {"field": "y", "type": "quantitative", "title": "dominance_gini"}, "text": {"field": "lab"}}}
          ]
        }
      ]
    }
  ]
}
